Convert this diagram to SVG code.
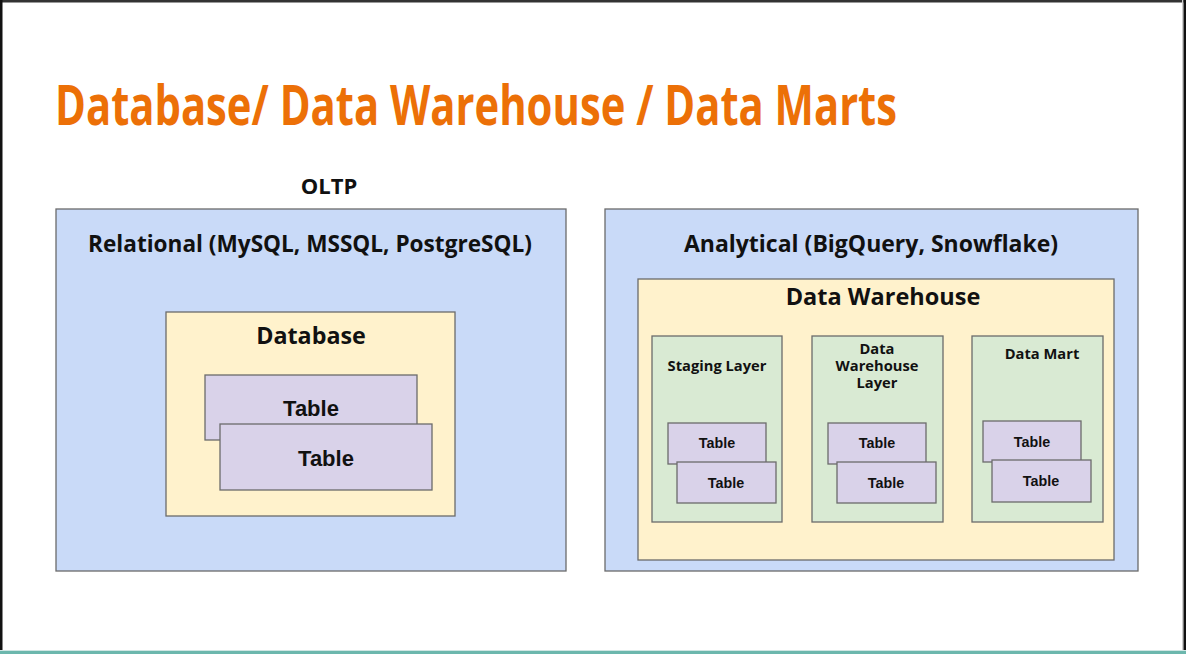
<svg xmlns="http://www.w3.org/2000/svg" width="1186" height="654" viewBox="0 0 1186 654">
<style>
.box{stroke:#6b6b6b;stroke-width:1.3}
.blue{fill:#c9daf8}
.yellow{fill:#fff2cc}
.green{fill:#d9ead3}
.table{fill:#d9d2e9}
.h{font-family:"Open Sans","Noto Sans",sans-serif;font-weight:700;fill:#111;text-anchor:middle}
.t{font-family:"Liberation Sans",Arial,sans-serif;font-weight:bold;fill:#111;text-anchor:middle}
</style>
<rect x="0" y="0" width="1186" height="654" fill="#ffffff"/>
<g id="frame">
<rect x="0" y="0" width="1186" height="2.5" fill="#333333"/>
<rect x="0" y="0" width="2.5" height="654" fill="#111111"/>
<rect x="1182" y="0" width="1.5" height="654" fill="#cfcfcf"/>
<rect x="1183.5" y="0" width="2.5" height="654" fill="#111111"/>
<rect x="0" y="650" width="1186" height="1" fill="#cfe6e3"/>
<rect x="0" y="651" width="1186" height="3" fill="#6cb7ad"/>
</g>
<text id="title" x="55" y="125" font-family="'Open Sans','DejaVu Sans',sans-serif" font-weight="bold" font-size="55" fill="#ec7007" textLength="842" lengthAdjust="spacingAndGlyphs">Database/ Data Warehouse / Data Marts</text>
<text id="oltp" class="h" x="329" y="194" font-size="22">OLTP</text>

<g id="relational">
<rect class="box blue" x="56" y="209" width="510" height="362"/>
<text class="h" x="310" y="252" font-size="22.6">Relational (MySQL, MSSQL, PostgreSQL)</text>
</g>
<g id="database">
<rect class="box yellow" x="166" y="312" width="289" height="204"/>
<text class="h" x="311" y="344" font-size="23.3">Database</text>
</g>
<g id="db-table-1">
<rect class="box table" x="205" y="375" width="212" height="65"/>
<text class="t" x="311" y="416" font-size="22">Table</text>
</g>
<g id="db-table-2">
<rect class="box table" x="220" y="424" width="212" height="66"/>
<text class="t" x="326" y="466" font-size="22">Table</text>
</g>

<g id="analytical">
<rect class="box blue" x="605" y="209" width="533" height="362"/>
<text class="h" x="871" y="252" font-size="23">Analytical (BigQuery, Snowflake)</text>
</g>
<g id="data-warehouse">
<rect class="box yellow" x="638" y="279" width="476" height="281"/>
<text class="h" x="883" y="305" font-size="23.5">Data Warehouse</text>
</g>

<g id="staging-layer">
<rect class="box green" x="652" y="336" width="130" height="186"/>
<text class="h" x="717" y="371" font-size="14.7">Staging Layer</text>
</g>
<g id="staging-table-1">
<rect class="box table" x="668" y="423" width="98" height="41"/>
<text class="t" x="717" y="448" font-size="14.3">Table</text>
</g>
<g id="staging-table-2">
<rect class="box table" x="677" y="462" width="99" height="41"/>
<text class="t" x="726" y="488" font-size="14.3">Table</text>
</g>

<g id="dw-layer">
<rect class="box green" x="812" y="336" width="131" height="186"/>
<text class="h" x="877" font-size="14.7"><tspan x="877" y="354">Data</tspan><tspan x="877" y="371">Warehouse</tspan><tspan x="877" y="388">Layer</tspan></text>
</g>
<g id="dw-table-1">
<rect class="box table" x="828" y="423" width="98" height="41"/>
<text class="t" x="877" y="448" font-size="14.3">Table</text>
</g>
<g id="dw-table-2">
<rect class="box table" x="837" y="462" width="99" height="41"/>
<text class="t" x="886" y="488" font-size="14.3">Table</text>
</g>

<g id="data-mart">
<rect class="box green" x="972" y="336" width="131" height="186"/>
<text class="h" x="1042" y="359" font-size="14.7">Data Mart</text>
</g>
<g id="mart-table-1">
<rect class="box table" x="983" y="421" width="98" height="41"/>
<text class="t" x="1032" y="447" font-size="14.3">Table</text>
</g>
<g id="mart-table-2">
<rect class="box table" x="992" y="460" width="99" height="42"/>
<text class="t" x="1041" y="486" font-size="14.3">Table</text>
</g>
<g id="connectors"></g>
</svg>
